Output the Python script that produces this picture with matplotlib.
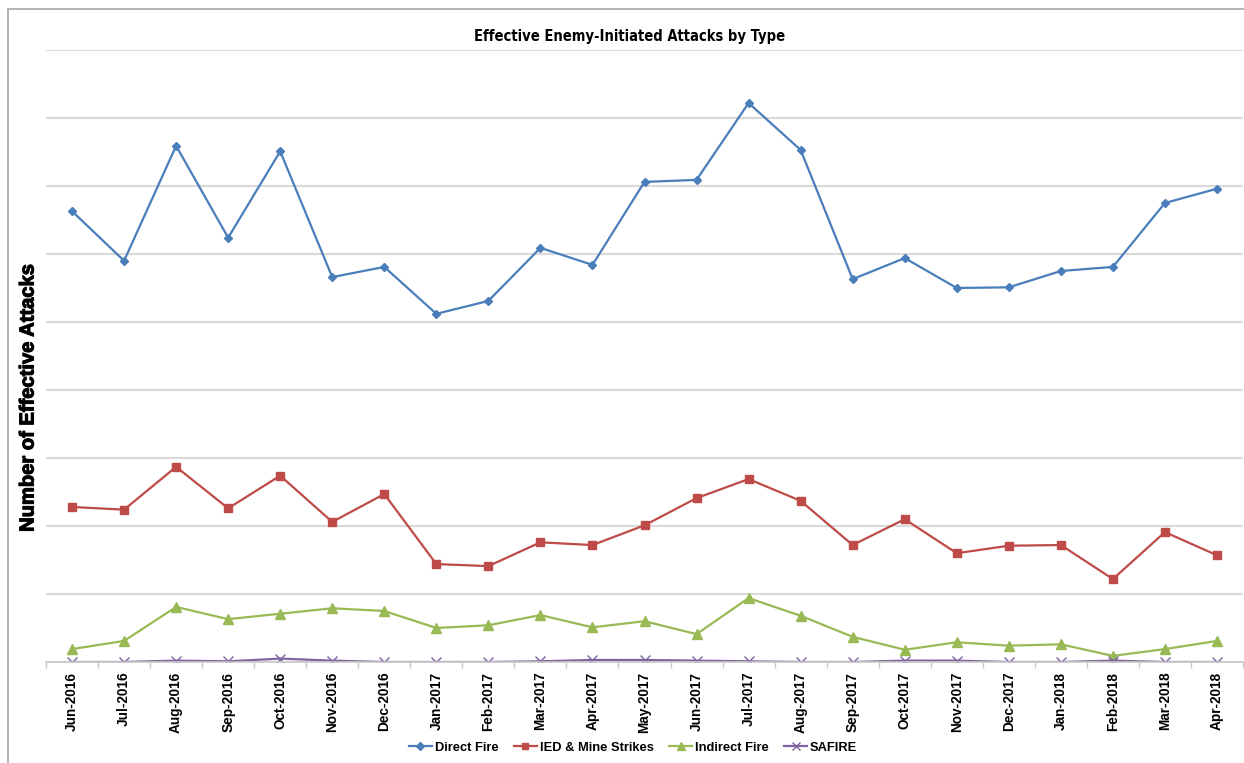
import matplotlib
matplotlib.use("Agg")
import matplotlib.pyplot as plt
import matplotlib.patheffects as pe
from matplotlib.patches import Rectangle
import numpy as np

months = ["Jun-2016", "Jul-2016", "Aug-2016", "Sep-2016", "Oct-2016", "Nov-2016",
          "Dec-2016", "Jan-2017", "Feb-2017", "Mar-2017", "Apr-2017", "May-2017",
          "Jun-2017", "Jul-2017", "Aug-2017", "Sep-2017", "Oct-2017", "Nov-2017",
          "Dec-2017", "Jan-2018", "Feb-2018", "Mar-2018", "Apr-2018"]

direct_fire = [663, 590, 759, 624, 751, 566, 581, 512, 531, 609, 584, 706,
               709, 822, 753, 563, 594, 550, 551, 575, 581, 675, 696]
ied_mine = [228, 224, 287, 226, 274, 206, 247, 144, 141, 176, 172, 201,
            241, 269, 237, 172, 210, 160, 171, 172, 122, 191, 157]
indirect_fire = [19, 31, 81, 63, 71, 79, 75, 50, 54, 69, 51, 60,
                 41, 94, 68, 37, 18, 29, 24, 26, 9, 19, 31]
safire = [0, 0, 2, 1, 5, 2, 0, 0, 0, 1, 3, 3,
          2, 1, 0, 0, 2, 2, 0, 0, 2, 0, 0]

series_names = ["Direct Fire", "IED & Mine Strikes", "Indirect Fire", "SAFIRE"]
title = "Effective Enemy-Initiated Attacks by Type"
ylabel = "Number of Effective Attacks"

W, H = 1244, 763
fig = plt.figure(figsize=(W / 100, H / 100), dpi=100)
fig.patch.set_facecolor("white")

# outer chart border (left/top visible)
fig.patches.append(Rectangle((8 / W, -0.05), 1.1, 1 - 9 / H + 0.05,
                             transform=fig.transFigure, fill=False,
                             edgecolor="#A6A6A6", linewidth=1.2))

ax = fig.add_axes([46 / W, 1 - 662 / H, 1197 / W, 612 / H])
x = np.arange(len(months))

ax.plot(x, direct_fire, color="#4A7EBB", lw=1.6, marker="D", ms=4.5,
        label=series_names[0])
ax.plot(x, ied_mine, color="#BE4B48", lw=1.6, marker="s", ms=6,
        label=series_names[1])
ax.plot(x, indirect_fire, color="#98B954", lw=1.6, marker="^", ms=6.5,
        label=series_names[2])
ax.plot(x, safire, color="#8064A2", lw=1.6, marker="x", ms=7, mew=1.0,
        label=series_names[3])

ax.set_xlim(-0.5, len(months) - 0.5)
ax.set_ylim(0, 900)
ax.set_yticks(np.arange(0, 901, 100))
ax.yaxis.grid(True, color="#D9D9D9", lw=1.5)
ax.set_axisbelow(True)
ax.tick_params(axis="y", length=0, labelleft=False)

ax.set_xticks(x)
ax.set_xticklabels(months, rotation=90, fontsize=9.8, fontweight="bold",
                   family="Liberation Sans")
ax.tick_params(axis="x", which="major", length=0, pad=7)
ax.set_xticks(np.arange(-0.5, len(months), 1), minor=True)
ax.tick_params(axis="x", which="minor", length=4, color="#C8C8C8", width=1,
               direction="out")

for s in ["left", "right", "top"]:
    ax.spines[s].set_visible(False)
ax.spines["bottom"].set_color("#C8C8C8")
ax.spines["bottom"].set_linewidth(1.2)

fig.text(630 / W, 1 - 36 / H, title, ha="center", va="center",
         fontsize=10.5, fontweight="bold", fontstretch="condensed",
         family=["DejaVu Sans"])
fig.text(28 / W, 1 - 398 / H, ylabel, rotation=90, ha="center", va="center",
         fontsize=14.5, fontweight="bold", family="Liberation Sans",
         path_effects=[pe.withStroke(linewidth=0.8, foreground="black")])

leg = fig.legend(loc="center", bbox_to_anchor=(633 / W, 1 - 748 / H), ncol=4,
                 frameon=False, prop={"family": "Liberation Sans", "weight": "bold", "size": 9.3},
                 handlelength=1.8, handletextpad=0.2, columnspacing=1.2, markerscale=0.8)

fig.savefig("out.png", dpi=100, facecolor="white")
